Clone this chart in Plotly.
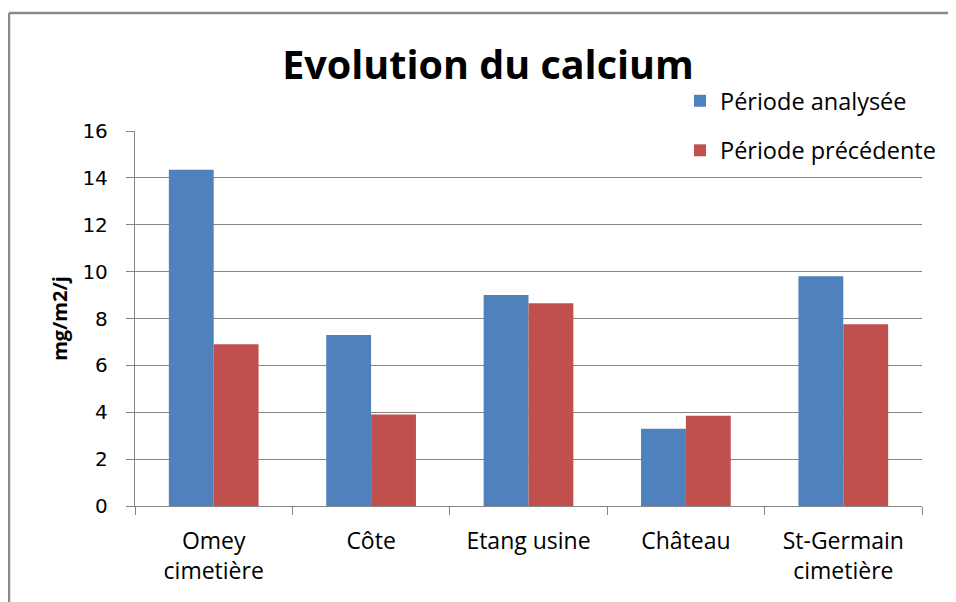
import plotly.graph_objects as go

categories = ["Omey<br>cimetière", "Côte", "Etang usine", "Château", "St-Germain<br>cimetière"]
periode_analysee = [14.35, 7.3, 9.0, 3.3, 9.8]
periode_precedente = [6.9, 3.9, 8.65, 3.85, 7.75]
series_names = ["Période analysée", "Période précédente"]
y_ticks = [0, 2, 4, 6, 8, 10, 12, 14, 16]

grey = "#868686"

# the page body has an 8px margin; work in reference-page pixels and shift
OFF = 8
W, H = 956 - OFF, 602 - OFF
# plot area in reference pixels: x 135..922, y 131..506
L = 135 - OFF
T = 131 - OFF
R = 956 - 922
B = 602 - 506
pw, ph = W - L - R, H - T - B

def px_x(x):
    return (x - OFF - L) / pw

def px_y(y):
    return (H - B - (y - OFF)) / ph

fig = go.Figure()
fig.add_trace(go.Bar(x=categories, y=periode_analysee, name=series_names[0],
                     marker=dict(color="#4F81BD", line=dict(width=0)), legendgroup="a"))
fig.add_trace(go.Bar(x=categories, y=periode_precedente, name=series_names[1],
                     marker=dict(color="#C0504D", line=dict(width=0)), legendgroup="b"))

fig.update_layout(
    width=W, height=H,
    margin=dict(l=L, r=R, t=T, b=B, pad=0),
    paper_bgcolor="white", plot_bgcolor="white",
    barmode="group", bargap=0.43, bargroupgap=0,
    title=dict(text="<b>Evolution du calcium</b>", x=(488 - OFF) / W, xanchor="center",
               y=1 - (65 - OFF) / H, yanchor="middle",
               font=dict(family="Open Sans", size=39.5, color="black")),
    legend=dict(x=px_x(680), y=px_y(79), xanchor="left", yanchor="top",
                font=dict(family="Open Sans", size=23.5, color="black"),
                tracegroupgap=16, itemsizing="constant", bgcolor="rgba(0,0,0,0)",
                traceorder="grouped"),
    font=dict(family="Open Sans", color="black"),
    showlegend=True,
)

fig.update_yaxes(range=[0, 16], tickvals=y_ticks, showgrid=True, gridcolor=grey, gridwidth=1.3,
                 showline=True, linecolor=grey, linewidth=1.3,
                 ticks="outside", ticklen=8, tickcolor=grey, tickwidth=1.3,
                 ticklabelstandoff=14,
                 tickfont=dict(family="DejaVu Sans", size=20, color="black"),
                 title=dict(text="<b>mg/m2/j</b>", font=dict(family="Open Sans", size=20, color="black"),
                            standoff=9),
                 zeroline=False)
fig.update_xaxes(showline=True, linecolor=grey, linewidth=1.3,
                 ticks="outside", ticklen=8, tickcolor=grey, tickwidth=1.3,
                 tickson="boundaries", ticklabelstandoff=14,
                 tickfont=dict(family="Open Sans", size=23, color="black"))

# outer frame
fig.add_shape(type="line", xref="paper", yref="paper",
              x0=px_x(9), x1=px_x(9), y0=px_y(610), y1=px_y(13),
              line=dict(color="#8a8a8a", width=2.5))
fig.add_shape(type="line", xref="paper", yref="paper",
              x0=px_x(9), x1=px_x(965), y0=px_y(13), y1=px_y(13),
              line=dict(color="#8a8a8a", width=2.5))

fig.write_html("out.html")
